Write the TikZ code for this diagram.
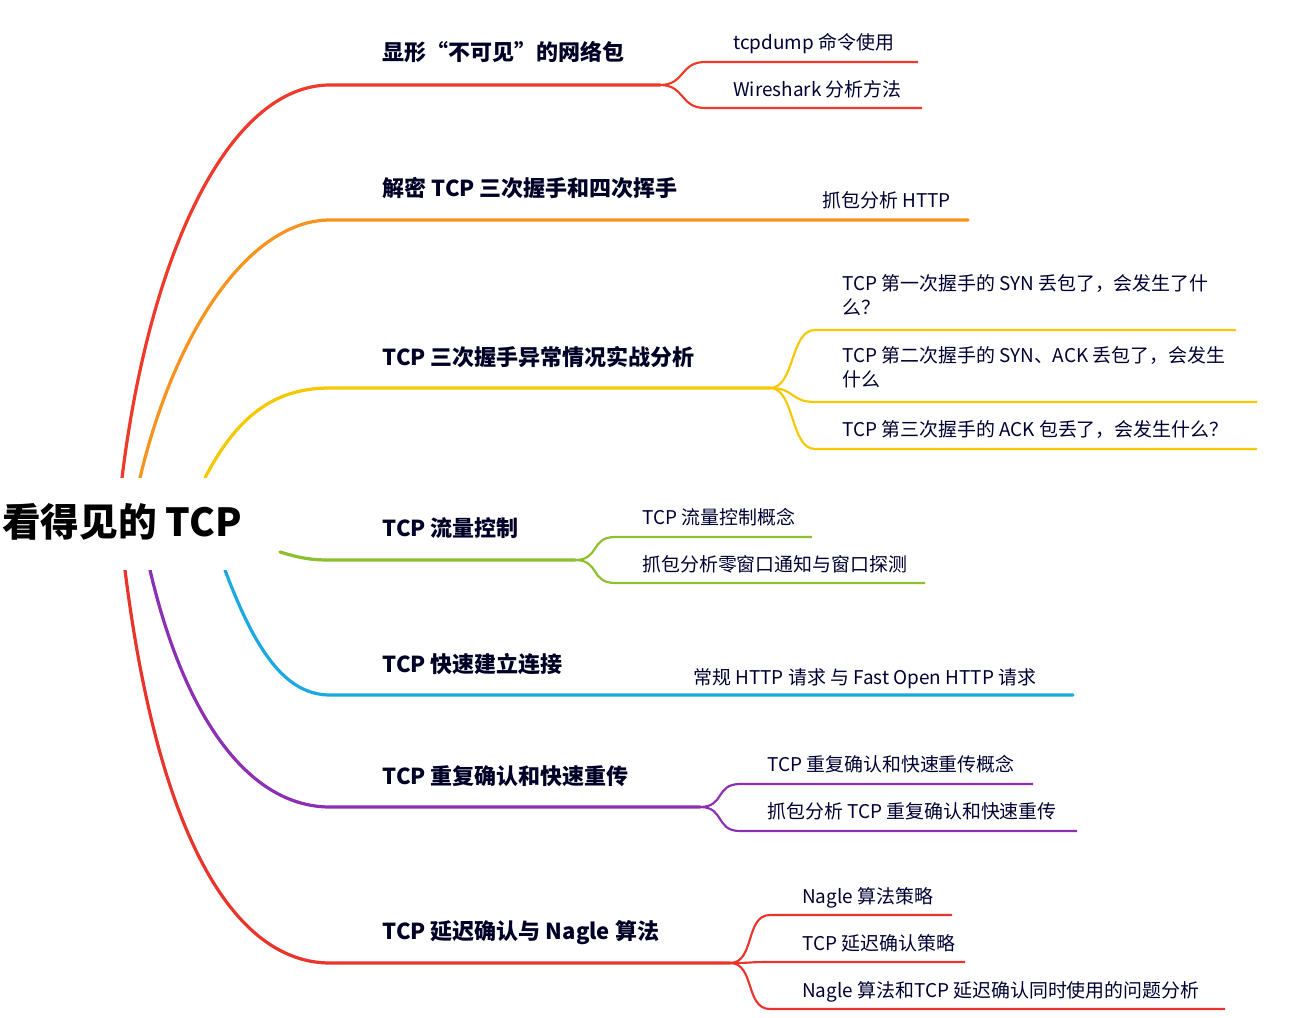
\documentclass[tikz,border=0pt]{standalone}
\usepackage{fontspec}
\setmainfont{Noto Sans CJK SC}
\usetikzlibrary{calc}
\begin{document}
\begin{tikzpicture}[x=0.75pt,y=-0.75pt,
  ttl/.style={anchor=base west,font=\fontsize{16.5}{18}\selectfont\bfseries,text=black!85!blue},
  sub/.style={anchor=base west,font=\fontsize{14.2}{18}\selectfont,text=black!80!blue,align=left,inner sep=0pt},
  mainln/.style={line width=2.4pt,line cap=round},
  subln/.style={line width=1.6pt}]
\useasboundingbox[fill=white] (0,0) rectangle (1290,1018);
\definecolor{cR}{HTML}{EE3A2A}
\definecolor{cO}{HTML}{F7931E}
\definecolor{cY}{HTML}{F5C800}
\definecolor{cG}{HTML}{8DBF2E}
\definecolor{cB}{HTML}{1BA9DF}
\definecolor{cP}{HTML}{8B2FB3}
\definecolor{cR2}{HTML}{E8342A}
\coordinate (s1) at (122,478); \coordinate (m1) at (330,85); \coordinate (e1) at (660,85);
\coordinate (s2) at (140,478); \coordinate (m2) at (330,220); \coordinate (e2) at (968,220);
\coordinate (s3) at (205,478); \coordinate (m3) at (330,388); \coordinate (e3) at (770,388);
\coordinate (s4) at (280,552); \coordinate (m4) at (330,560); \coordinate (e4) at (575,560);
\coordinate (s5) at (225,570); \coordinate (m5) at (330,695); \coordinate (e5) at (1073,695);
\coordinate (s6) at (150,570); \coordinate (m6) at (330,807); \coordinate (e6) at (700,807);
\coordinate (s7) at (125,570); \coordinate (m7) at (330,963); \coordinate (e7) at (730,963);
\draw[mainln,cR] (s1) .. controls (150,250) and (230,85) .. (m1) -- (e1);
\draw[mainln,cO] (s2) .. controls (175,330) and (250,220) .. (m2) -- (e2);
\draw[mainln,cY] (s3) .. controls (240,410) and (280,388) .. (m3) -- (e3);
\draw[mainln,cG] (s4) .. controls (300,558) and (310,560) .. (m4) -- (e4);
\draw[mainln,cB] (s5) .. controls (255,650) and (285,695) .. (m5) -- (e5);
\draw[mainln,cP] (s6) .. controls (185,720) and (250,807) .. (m6) -- (e6);
\draw[mainln,cR2] (s7) .. controls (160,850) and (240,963) .. (m7) -- (e7);
\node[fill=white,minimum width=278*0.75pt,minimum height=92*0.75pt,anchor=north west,inner sep=0pt] (root) at (0,478) {};
\node[anchor=west,font=\fontsize{29}{31}\selectfont\bfseries,text=black,inner sep=0pt] (rt) at (2,522) {看得见的 TCP};
\node[ttl] (t1) at (378,60) {显形“不可见”的网络包};
\node[ttl] (t2) at (378,196) {解密 TCP 三次握手和四次挥手};
\node[ttl] (t3) at (378,365) {TCP 三次握手异常情况实战分析};
\node[ttl] (t4) at (378,536) {TCP 流量控制};
\node[ttl] (t5) at (378,672) {TCP 快速建立连接};
\node[ttl] (t6) at (378,784) {TCP 重复确认和快速重传};
\node[ttl] (t7) at (378,939) {TCP 延迟确认与 Nagle 算法};
\newcommand{\sbr}[6]{%
  \coordinate (#6a) at (#4,#3); \coordinate (#6b) at (#5,#3);
  \draw[subln,#1] (#2) .. controls ($(#2)+(25,0)$) and ($(#6a)+(-25,0)$) .. (#6a) -- (#6b);}
\sbr{cR}{e1}{62}{705}{918}{a1}
\sbr{cR}{e1}{108}{705}{922}{a2}
\sbr{cY}{e3}{330}{815}{1236}{c1}
\sbr{cY}{e3}{402}{815}{1257}{c2}
\sbr{cY}{e3}{449}{815}{1257}{c3}
\sbr{cG}{e4}{537}{615}{812}{d1}
\sbr{cG}{e4}{583}{615}{925}{d2}
\sbr{cP}{e6}{784}{740}{1033}{f1}
\sbr{cP}{e6}{831}{740}{1077}{f2}
\sbr{cR2}{e7}{915}{770}{952}{g1}
\sbr{cR2}{e7}{962}{770}{965}{g2}
\sbr{cR2}{e7}{1009}{770}{1225}{g3}
\node[sub] (u1) at (733,49) {tcpdump 命令使用};
\node[sub] (u2) at (733,96) {Wireshark 分析方法};
\node[sub] (u3) at (822,207) {抓包分析 HTTP};
\node[sub,anchor=north west,font=\fontsize{14.2}{18.5}\selectfont] (u4) at (842,274) {TCP 第一次握手的 SYN 丢包了，会发生了什\\么？};
\node[sub,anchor=north west,font=\fontsize{14.2}{18.5}\selectfont] (u5) at (842,346) {TCP 第二次握手的 SYN、ACK 丢包了，会发生\\什么};
\node[sub] (u6) at (842,436) {TCP 第三次握手的 ACK 包丢了，会发生什么？};
\node[sub] (u7) at (642,524) {TCP 流量控制概念};
\node[sub] (u8) at (642,571) {抓包分析零窗口通知与窗口探测};
\node[sub] (u9) at (693,684) {常规 HTTP 请求 与 Fast Open HTTP 请求};
\node[sub] (u10) at (767,771) {TCP 重复确认和快速重传概念};
\node[sub] (u11) at (767,818) {抓包分析 TCP 重复确认和快速重传};
\node[sub] (u12) at (802,903) {Nagle 算法策略};
\node[sub] (u13) at (802,950) {TCP 延迟确认策略};
\node[sub] (u14) at (802,997) {Nagle 算法和TCP 延迟确认同时使用的问题分析};
\end{tikzpicture}
\end{document}
